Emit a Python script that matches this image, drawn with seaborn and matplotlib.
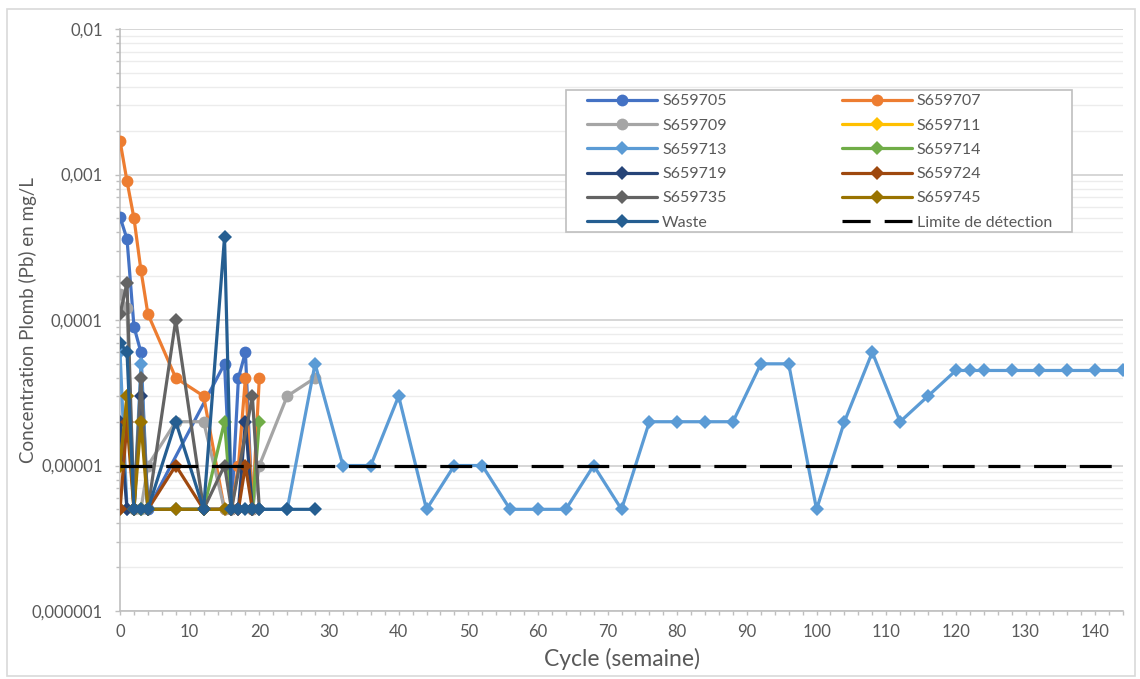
import numpy as np
import pandas as pd
import matplotlib
matplotlib.use("Agg")
import matplotlib.pyplot as plt
import matplotlib.ticker as mticker
from matplotlib.lines import Line2D
from matplotlib.patches import Rectangle
import seaborn as sns

# ---- data: lead concentration (mg/L) per sampling week ----
weeks_705 = [0, 1, 2, 3, 4, 15, 16, 17, 18, 19]
pb_705 = [5.1e-4, 3.6e-4, 9e-5, 6e-5, 5e-6, 5e-5, 5e-6, 4e-5, 6e-5, 5e-6]

weeks_707 = [0, 1, 2, 3, 4, 8, 12, 15, 16, 17, 18, 19, 20]
pb_707 = [1.7e-3, 9e-4, 5e-4, 2.2e-4, 1.1e-4, 4e-5, 3e-5, 5e-6, 5e-6, 1e-5, 4e-5, 5e-6, 4e-5]

weeks_709 = [0, 1, 2, 3, 4, 8, 12, 15, 16, 19, 20, 24, 28]
pb_709 = [1.5e-4, 1.2e-4, 5e-6, 5e-6, 1e-5, 2e-5, 2e-5, 5e-6, 5e-6, 5e-6, 1e-5, 3e-5, 4e-5]

weeks_711 = [0, 1, 2, 3]
pb_711 = [1e-5, 3e-5, 5e-6, 5e-6]

weeks_713 = [0, 1, 2, 3, 4, 8, 12, 16, 20, 24, 28, 32, 36, 40, 44, 48, 52, 56, 60,
             64, 68, 72, 76, 80, 84, 88, 92, 96, 100, 104, 108, 112, 116, 120, 122,
             124, 128, 132, 136, 140, 144]
pb_713 = [6e-5, 5e-6, 5e-6, 5e-5, 5e-6, 5e-6, 5e-6, 5e-6, 5e-6, 5e-6, 5e-5, 1e-5,
          1e-5, 3e-5, 5e-6, 1e-5, 1e-5, 5e-6, 5e-6, 5e-6, 1e-5, 5e-6, 2e-5, 2e-5,
          2e-5, 2e-5, 5e-5, 5e-5, 5e-6, 2e-5, 6e-5, 2e-5, 3e-5, 4.5e-5, 4.5e-5,
          4.5e-5, 4.5e-5, 4.5e-5, 4.5e-5, 4.5e-5, 4.5e-5]

weeks_714 = [0, 2, 3, 12, 15, 16, 19, 20]
pb_714 = [5e-6, 5e-6, 5e-6, 5e-6, 2e-5, 5e-6, 5e-6, 2e-5]

weeks_719 = [0, 1, 2, 3, 4, 17, 18, 19]
pb_719 = [2e-5, 5e-6, 5e-6, 3e-5, 5e-6, 5e-6, 2e-5, 5e-6]

weeks_724 = [0, 1, 2, 4, 8, 12, 16, 17, 18, 19]
pb_724 = [5e-6, 2e-5, 5e-6, 5e-6, 1e-5, 5e-6, 5e-6, 5e-6, 1e-5, 5e-6]

weeks_735 = [0, 1, 2, 3, 4, 8, 12, 15, 16, 19, 20]
pb_735 = [1.1e-4, 1.8e-4, 5e-6, 4e-5, 5e-6, 1e-4, 5e-6, 1e-5, 5e-6, 3e-5, 5e-6]

weeks_745 = [0, 1, 2, 3, 4, 8, 12, 15]
pb_745 = [1e-5, 3e-5, 5e-6, 2e-5, 5e-6, 5e-6, 5e-6, 5e-6]

weeks_waste = [0, 1, 2, 3, 4, 8, 12, 15, 16, 17, 18, 19, 20, 24, 28]
pb_waste = [7e-5, 6e-5, 5e-6, 5e-6, 5e-6, 2e-5, 5e-6, 3.7e-4, 5e-6, 5e-6, 5e-6,
            5e-6, 5e-6, 5e-6, 5e-6]

detection_limit = 1e-5
limit_span = [0, 144]

y_ticks = [1e-6, 1e-5, 1e-4, 1e-3, 1e-2]
y_tick_labels = ["0,000001", "0,00001", "0,0001", "0,001", "0,01"]
x_ticks = list(range(0, 141, 10))

series = [
    ("S659705", weeks_705, pb_705, "#4472C4", "o"),
    ("S659707", weeks_707, pb_707, "#ED7D31", "o"),
    ("S659709", weeks_709, pb_709, "#A5A5A5", "o"),
    ("S659711", weeks_711, pb_711, "#FFC000", "D"),
    ("S659713", weeks_713, pb_713, "#5B9BD5", "D"),
    ("S659714", weeks_714, pb_714, "#70AD47", "D"),
    ("S659719", weeks_719, pb_719, "#264478", "D"),
    ("S659724", weeks_724, pb_724, "#9E480E", "D"),
    ("S659735", weeks_735, pb_735, "#636363", "D"),
    ("S659745", weeks_745, pb_745, "#997300", "D"),
    ("Waste", weeks_waste, pb_waste, "#255E91", "D"),
]

sns.set_theme(style="white")
plt.rcParams["font.family"] = ["Lato", "DejaVu Sans"]

fig = plt.figure(figsize=(11.4, 6.79), dpi=100)
ax = fig.add_axes([0.1053, 0.1001, 0.8798, 0.8572])

# outer chart frame
fig.patches.append(Rectangle((0.0062, 0.004), 0.989, 0.9827, transform=fig.transFigure,
                             fill=False, edgecolor="#D9D9D9", linewidth=1.2))

handles = {}
for i, (name, wk, pb, col, mk) in enumerate(series):
    df = pd.DataFrame({"semaine": wk, "pb": pb})
    msize = 8.5 if mk == "o" else 7.5
    sns.lineplot(data=df, x="semaine", y="pb", ax=ax, color=col, marker=mk,
                 markersize=msize, markeredgewidth=0, linewidth=2.3,
                 sort=False, estimator=None, zorder=3 + i)
    handles[name] = Line2D([], [], color=col, marker=mk, markersize=msize,
                           markeredgewidth=0, linewidth=2.3)

lim_df = pd.DataFrame({"semaine": limit_span, "pb": [detection_limit] * 2})
sns.lineplot(data=lim_df, x="semaine", y="pb", ax=ax, color="black",
             linewidth=2.3, dashes=False, zorder=20)
ax.lines[-1].set_dashes((10, 4.3))
handles["Limite de détection"] = Line2D([], [], color="black", linewidth=2.3,
                                        dashes=(8.8, 4.4))

ax.set_yscale("log")
ax.set_ylim(1e-6, 1e-2)
ax.set_xlim(0, 144)
ax.set_yticks(y_ticks)
ax.set_yticklabels(y_tick_labels)
ax.yaxis.set_minor_locator(mticker.LogLocator(base=10, subs=np.arange(2, 10)))
ax.yaxis.set_minor_formatter(mticker.NullFormatter())
ax.set_xticks(x_ticks)
ax.xaxis.set_minor_locator(mticker.MultipleLocator(2))

ax.grid(True, which="major", axis="y", color="#D0D0D0", linewidth=1.2, zorder=0)
ax.grid(True, which="minor", axis="y", color="#ECECEC", linewidth=1.0, zorder=0)
ax.grid(False, axis="x")
ax.grid(False, axis="x", which="minor")
ax.set_axisbelow(True)

for side in ["top", "right"]:
    ax.spines[side].set_visible(False)
for side in ["left", "bottom"]:
    ax.spines[side].set_color("#BFBFBF")
    ax.spines[side].set_linewidth(1.2)

ax.tick_params(axis="y", which="major", left=True, length=3.5, width=1.0,
               color="#BFBFBF", labelsize=12, labelcolor="#595959", pad=9)
ax.tick_params(axis="y", which="minor", left=True, length=3, width=1.0,
               color="#BFBFBF")
ax.tick_params(axis="x", which="major", bottom=True, length=3, width=1.0,
               color="#BFBFBF", labelsize=12, labelcolor="#595959", pad=6)
ax.tick_params(axis="x", which="minor", bottom=True, length=3, width=1.0,
               color="#BFBFBF")

ax.set_xlabel("Cycle (semaine)", fontsize=16.5, color="#595959", labelpad=6)
ax.set_ylabel("Concentration Plomb (Pb) en mg/L", fontsize=13.5, color="#595959")
ax.yaxis.set_label_coords(-0.083, 0.5)

# legend laid out row by row in two columns, inside a plain white box
order = ["S659705", "S659709", "S659713", "S659719", "S659735", "Waste",
         "S659707", "S659711", "S659714", "S659724", "S659745",
         "Limite de détection"]
legend_box = Rectangle((566 / 1140, 1 - 232 / 679), (1072 - 566) / 1140,
                       (232 - 90) / 679, transform=fig.transFigure,
                       facecolor="white", edgecolor="#BFBFBF", linewidth=1.2,
                       zorder=25, clip_on=False)
ax.add_artist(legend_box)
leg = ax.legend([handles[k] for k in order], order, ncol=2,
                loc="upper left", bbox_to_anchor=(0.4656, 0.888),
                frameon=False, fontsize=11.5, labelcolor="#595959",
                handlelength=4.4, handletextpad=0.3, columnspacing=7.2,
                labelspacing=0.63, borderpad=0, borderaxespad=0)
leg.set_zorder(30)

fig.savefig("out.png", dpi=100)
